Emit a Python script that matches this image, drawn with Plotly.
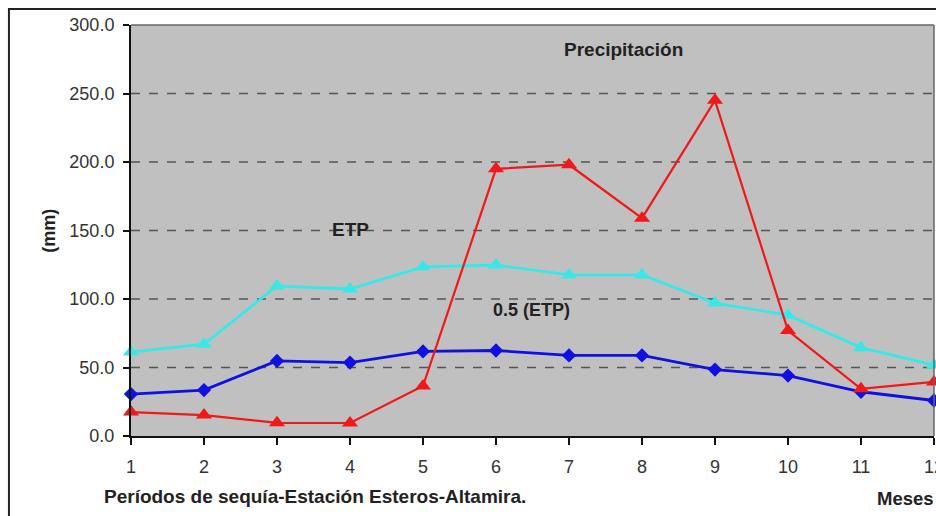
import plotly.graph_objects as go

# Months of the dry-period analysis
meses = [1, 2, 3, 4, 5, 6, 7, 8, 9, 10, 11, 12]

# Monthly values (mm)
precipitacion = [17.5, 15.3, 9.6, 9.5, 36.5, 195.0, 198.0, 159.0, 245.0, 77.0, 34.5, 39.5]
etp = [61.3, 67.0, 109.5, 107.3, 123.4, 124.8, 117.6, 117.6, 97.0, 88.2, 64.5, 51.8]
medio_etp = [30.6, 33.5, 54.8, 53.6, 61.7, 62.4, 58.8, 58.8, 48.5, 44.1, 32.3, 25.9]

y_ticks = [0, 50, 100, 150, 200, 250, 300]

FONT = "Liberation Sans, Arial, sans-serif"
TEXT = "#222222"

fig = go.Figure()

fig.add_trace(go.Scatter(
    x=meses, y=etp, mode="lines+markers", name="ETP",
    line=dict(color="#38e8e8", width=2.8),
    marker=dict(symbol="triangle-up", size=14, color="#38e8e8"),
    cliponaxis=False,
))
fig.add_trace(go.Scatter(
    x=meses, y=medio_etp, mode="lines+markers", name="0.5 (ETP)",
    line=dict(color="#1010e0", width=2.8),
    marker=dict(symbol="diamond", size=11, color="#1010e0"),
    cliponaxis=False,
))
fig.add_trace(go.Scatter(
    x=meses, y=precipitacion, mode="lines+markers", name="Precipitación",
    line=dict(color="#f01818", width=2.2),
    marker=dict(symbol="triangle-up", size=14, color="#f01818"),
    cliponaxis=False,
))

# Dashed gridlines drawn as shapes so the dash pattern can be styled freely
for v in y_ticks[1:-1]:
    fig.add_shape(type="line", xref="paper", yref="y", x0=0, x1=1, y0=v, y1=v,
                  line=dict(color="#555555", width=1.5, dash="dash"), layer="below")

# Plot-area frame (top and right edges)
fig.add_shape(type="line", xref="paper", yref="paper", x0=0, x1=1, y0=1, y1=1,
              line=dict(color="#666666", width=1.5))
fig.add_shape(type="line", xref="paper", yref="paper", x0=1, x1=1, y0=0, y1=1,
              line=dict(color="#666666", width=1.5))

# Outer chart border
fig.add_shape(type="rect", xref="paper", yref="paper",
              x0=-0.152, x1=1.05, y0=-0.3, y1=1.039,
              line=dict(color="#222222", width=2), layer="below")

annotations = [
    dict(text="<b>Precipitación</b>", x=7.74, y=282, xref="x", yref="y",
         font=dict(size=19, color=TEXT), showarrow=False),
    dict(text="<b>ETP</b>", x=4.0, y=150.5, xref="x", yref="y",
         font=dict(size=19, color=TEXT), showarrow=False),
    dict(text="<b>0.5 (ETP)</b>", x=6.48, y=92, xref="x", yref="y",
         font=dict(size=18, color=TEXT), showarrow=False),
    dict(text="<b>(mm)</b>", x=-0.103, y=0.5, xref="paper", yref="paper",
         xanchor="center", yanchor="middle",
         textangle=-90, font=dict(size=18, color=TEXT), showarrow=False),
    dict(text="<b>Períodos de sequía-Estación Esteros-Altamira.</b>",
         x=-0.036, y=-0.148, xref="paper", yref="paper",
         xanchor="left", yanchor="middle",
         font=dict(size=19, color=TEXT), showarrow=False),
    dict(text="<b>Meses</b>", x=0.926, y=-0.151, xref="paper", yref="paper",
         xanchor="left", yanchor="middle",
         font=dict(size=18.5, color=TEXT), showarrow=False),
]

fig.update_layout(
    width=936, height=516,
    margin=dict(l=131, r=2, t=25, b=80, autoexpand=False),
    paper_bgcolor="white",
    plot_bgcolor="#c0c0c0",
    showlegend=False,
    font=dict(family=FONT, size=18, color="#333333"),
    annotations=annotations,
    xaxis=dict(
        range=[1, 12], tickmode="array", tickvals=meses,
        ticktext=[str(m) for m in meses],
        showgrid=False, zeroline=False, automargin=False,
        showline=True, linecolor="#111111", linewidth=2,
        ticks="outside", ticklen=7, tickwidth=1.5, tickcolor="#111111",
        ticklabelstandoff=6, ticklabeloverflow="allow",
        tickfont=dict(size=18, color="#333333"),
    ),
    yaxis=dict(
        range=[0, 300], tickmode="array", tickvals=y_ticks,
        ticktext=[f"{v:.1f}" for v in y_ticks],
        showgrid=False, zeroline=False, automargin=False,
        showline=True, linecolor="#111111", linewidth=2,
        ticks="outside", ticklen=6, tickwidth=1.5, tickcolor="#111111",
        ticklabelstandoff=5, ticklabeloverflow="allow",
        tickfont=dict(size=18, color="#333333"),
    ),
)

fig.write_html("out.html")
